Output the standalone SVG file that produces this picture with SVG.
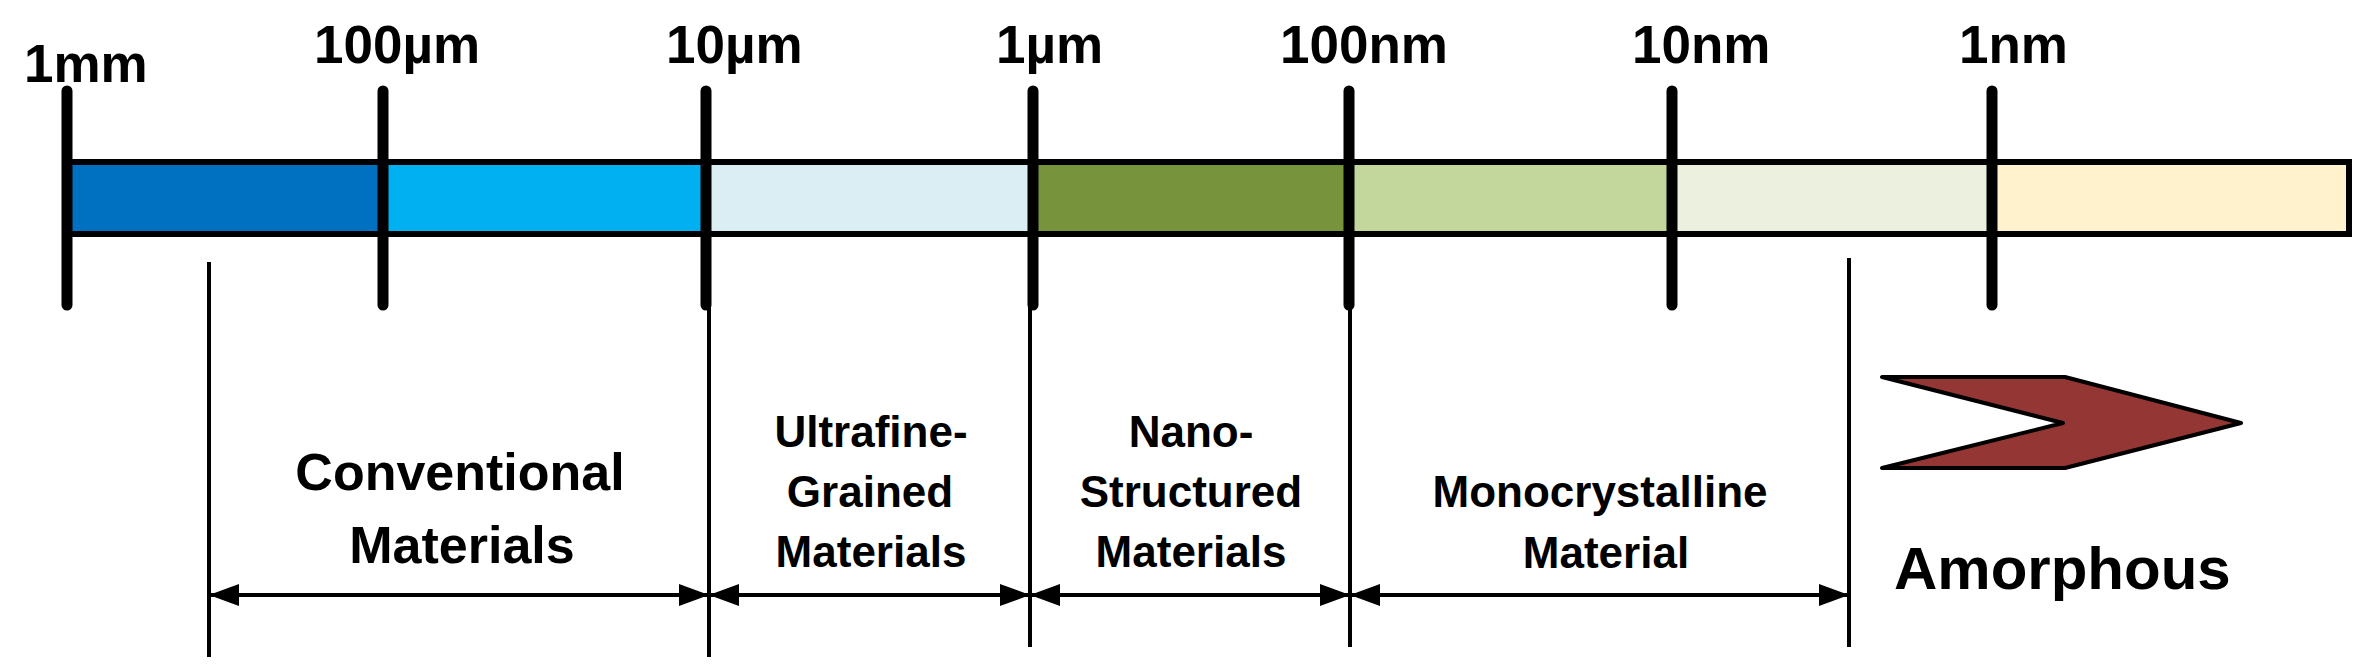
<svg xmlns="http://www.w3.org/2000/svg" width="2372" height="670" viewBox="0 0 2372 670">
<style>
  .lbl { font-family: "Liberation Sans", Arial, sans-serif; font-weight: bold; fill: #000; }
  .top { font-size: 53px; }
  .reg { font-size: 44px; text-anchor: middle; }
  .big { font-size: 52px; text-anchor: middle; }
  .tick { stroke: #000; stroke-width: 11; stroke-linecap: round; fill: none; }
  .dim { stroke: #000; stroke-width: 4; fill: none; }
  .arr { stroke: #000; stroke-width: 4; fill: none; marker-start: url(#ah); marker-end: url(#ah); }
</style>
<defs>
  <marker id="ah" viewBox="0 0 30 22" refX="30" refY="11" markerWidth="30" markerHeight="22" markerUnits="userSpaceOnUse" orient="auto-start-reverse">
    <path d="M0,0 L30,11 L0,22 z" fill="#000"/>
  </marker>
</defs>
<rect x="0" y="0" width="2372" height="670" fill="#fff"/>

<g id="scale-bar">
  <rect x="67" y="162" width="316" height="72" fill="#0070C0"/>
  <rect x="383" y="162" width="323" height="72" fill="#00B0F0"/>
  <rect x="706" y="162" width="327" height="72" fill="#DAEEF3"/>
  <rect x="1033" y="162" width="316" height="72" fill="#77933C"/>
  <rect x="1349" y="162" width="323" height="72" fill="#C3D69B"/>
  <rect x="1672" y="162" width="320" height="72" fill="#EBF1DE"/>
  <rect x="1992" y="162" width="357" height="72" fill="#FFF2CC"/>
  <rect x="67" y="162" width="2282" height="72" fill="none" stroke="#000" stroke-width="6"/>
</g>

<g id="ticks">
  <line class="tick" x1="67" y1="91" x2="67" y2="305"/>
  <line class="tick" x1="383" y1="91" x2="383" y2="305"/>
  <line class="tick" x1="706" y1="91" x2="706" y2="305"/>
  <line class="tick" x1="1033" y1="91" x2="1033" y2="305"/>
  <line class="tick" x1="1349" y1="91" x2="1349" y2="305"/>
  <line class="tick" x1="1672" y1="91" x2="1672" y2="305"/>
  <line class="tick" x1="1992" y1="91" x2="1992" y2="305"/>
</g>

<g id="tick-labels">
  <text class="lbl top" x="24" y="82">1mm</text>
  <text class="lbl top" x="314" y="63">100µm</text>
  <text class="lbl top" x="666" y="63">10µm</text>
  <text class="lbl top" x="996" y="63">1µm</text>
  <text class="lbl top" x="1280" y="63">100nm</text>
  <text class="lbl top" x="1632" y="63">10nm</text>
  <text class="lbl top" x="1959" y="63">1nm</text>
</g>

<g id="connectors">
  <line class="dim" x1="209" y1="262" x2="209" y2="657"/>
  <line class="dim" x1="709" y1="300" x2="709" y2="657"/>
  <line class="dim" x1="1030" y1="300" x2="1030" y2="647"/>
  <line class="dim" x1="1350" y1="300" x2="1350" y2="647"/>
  <line class="dim" x1="1849" y1="258" x2="1849" y2="647"/>
  <line class="arr" x1="209" y1="595" x2="709" y2="595"/>
  <line class="arr" x1="709" y1="595" x2="1030" y2="595"/>
  <line class="arr" x1="1030" y1="595" x2="1350" y2="595"/>
  <line class="arr" x1="1350" y1="595" x2="1849" y2="595"/>
</g>

<g id="conventional">
  <text class="lbl big" x="460" y="490">Conventional</text>
  <text class="lbl big" x="462" y="563">Materials</text>
</g>

<g id="ultrafine">
  <text class="lbl reg" x="871" y="447">Ultrafine-</text>
  <text class="lbl reg" x="870" y="507">Grained</text>
  <text class="lbl reg" x="871" y="567">Materials</text>
</g>

<g id="nano">
  <text class="lbl reg" x="1191" y="447">Nano-</text>
  <text class="lbl reg" x="1191" y="507">Structured</text>
  <text class="lbl reg" x="1191" y="567">Materials</text>
</g>

<g id="monocrystalline">
  <text class="lbl reg" x="1600" y="507">Monocrystalline</text>
  <text class="lbl reg" x="1606" y="568">Material</text>
</g>

<g id="amorphous">
  <polygon points="1882,377 2065,377 2241,423 2065,468 1882,468 2063,423" fill="#943634" stroke="#000" stroke-width="4" stroke-linejoin="round"/>
  <text class="lbl" x="1894" y="589" font-size="60">Amorphous</text>
</g>
</svg>
